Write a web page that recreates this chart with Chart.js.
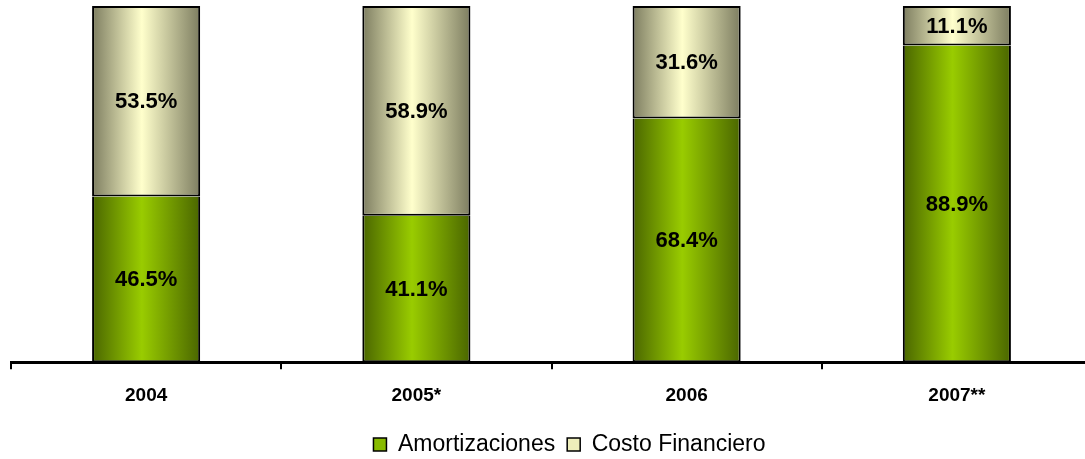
<!DOCTYPE html>
<html>
<head>
<meta charset="utf-8">
<script src="https://cdn.jsdelivr.net/npm/chart.js@4"></script>
<style>
  html,body{margin:0;padding:0;background:#fff;overflow:hidden;}
  #wrap{position:absolute;left:0;top:0;width:1092px;height:459px;}
</style>
</head>
<body>
<div id="wrap"><canvas id="chart"></canvas></div>
<script>
/* ================= Data ================= */
const years = ['2004', '2005*', '2006', '2007**'];
const amortizaciones = [46.5, 41.1, 68.4, 88.9];
const costoFinanciero = [53.5, 58.9, 31.6, 11.1];

const FONT = "'Liberation Sans', Arial, sans-serif";

/* ================= Gradient fills ================= */
function barGradient(edge, mid){
  return function(c){
    const chart = c.chart;
    const x = chart.scales.x;
    if(!x || !chart.chartArea || c.dataIndex === undefined) return mid;
    const cx = x.getPixelForValue(c.dataIndex);
    const half = (x.width / years.length) * 0.4 / 2;
    const g = chart.ctx.createLinearGradient(cx - half, 0, cx + half, 0);
    g.addColorStop(0, edge);
    g.addColorStop(0.46, mid);
    g.addColorStop(1, edge);
    return g;
  };
}

/* ================= Labels inside bars ================= */
const valueLabels = {
  id: 'valueLabels',
  afterDatasetsDraw(chart){
    const ctx = chart.ctx;
    ctx.save();
    ctx.font = 'bold 22px ' + FONT;
    ctx.fillStyle = '#000';
    ctx.textAlign = 'center';
    ctx.textBaseline = 'middle';
    chart.data.datasets.forEach((ds, i) => {
      chart.getDatasetMeta(i).data.forEach((bar, j) => {
        const p = bar.getProps(['x', 'y', 'base'], true);
        ctx.fillText(ds.data[j].toFixed(1) + '%', p.x, (p.y + p.base) / 2 + 1);
      });
    });
    ctx.restore();
  }
};

// legend sits a bit right of centre and lower in the original
const legendShift = {
  id: 'legendShift',
  afterLayout(chart){
    chart.legend.left += 18;
    chart.legend.right += 18;
    chart.legend.top += 7;
    chart.legend.bottom += 7;
  }
};

/* ================= Chart ================= */
new Chart(document.getElementById('chart'), {
  type: 'bar',
  data: {
    labels: years,
    datasets: [
      {
        label: 'Amortizaciones',
        data: amortizaciones,
        backgroundColor: barGradient('#4a6600', '#99cc00'),
        legendColor: '#88bb00',
        borderColor: '#000',
        borderWidth: 2,
        borderSkipped: 'end'
      },
      {
        label: 'Costo Financiero',
        data: costoFinanciero,
        backgroundColor: barGradient('#7d7d60', '#ffffcc'),
        legendColor: '#eeeebb',
        borderColor: '#000',
        borderWidth: 2,
        borderSkipped: false
      }
    ]
  },
  options: {
    responsive: true,
    maintainAspectRatio: false,
    animation: false,
    layout: { padding: { left: 11, right: 0, top: 6, bottom: 0 } },
    datasets: { bar: { barPercentage: 0.4, categoryPercentage: 1 } },
    scales: {
      x: {
        stacked: true,
        offset: true,
        afterFit(scale){ scale.height -= 8; },
        grid: {
          display: true,
          drawOnChartArea: false,
          drawTicks: true,
          tickLength: 7,
          color: '#000',
          lineWidth: 2,
          offset: true
        },
        border: { display: true, color: '#000', width: 3 },
        ticks: { color: '#000', font: { family: FONT, size: 19, weight: 'bold' }, padding: 15 }
      },
      y: {
        stacked: true,
        display: false,
        min: 0,
        max: 100
      }
    },
    plugins: {
      tooltip: { enabled: false },
      legend: {
        position: 'bottom',
        labels: {
          color: '#000',
          boxWidth: 13,
          boxHeight: 13,
          padding: 12,
          font: { family: FONT, size: 23 },
          generateLabels(chart){
            return chart.data.datasets.map((ds, i) => ({
              text: ds.label,
              fillStyle: ds.legendColor,
              strokeStyle: '#000',
              lineWidth: 1.5,
              fontColor: '#000',
              datasetIndex: i
            }));
          }
        }
      }
    }
  },
  plugins: [valueLabels, legendShift]
});
</script>
</body>
</html>
